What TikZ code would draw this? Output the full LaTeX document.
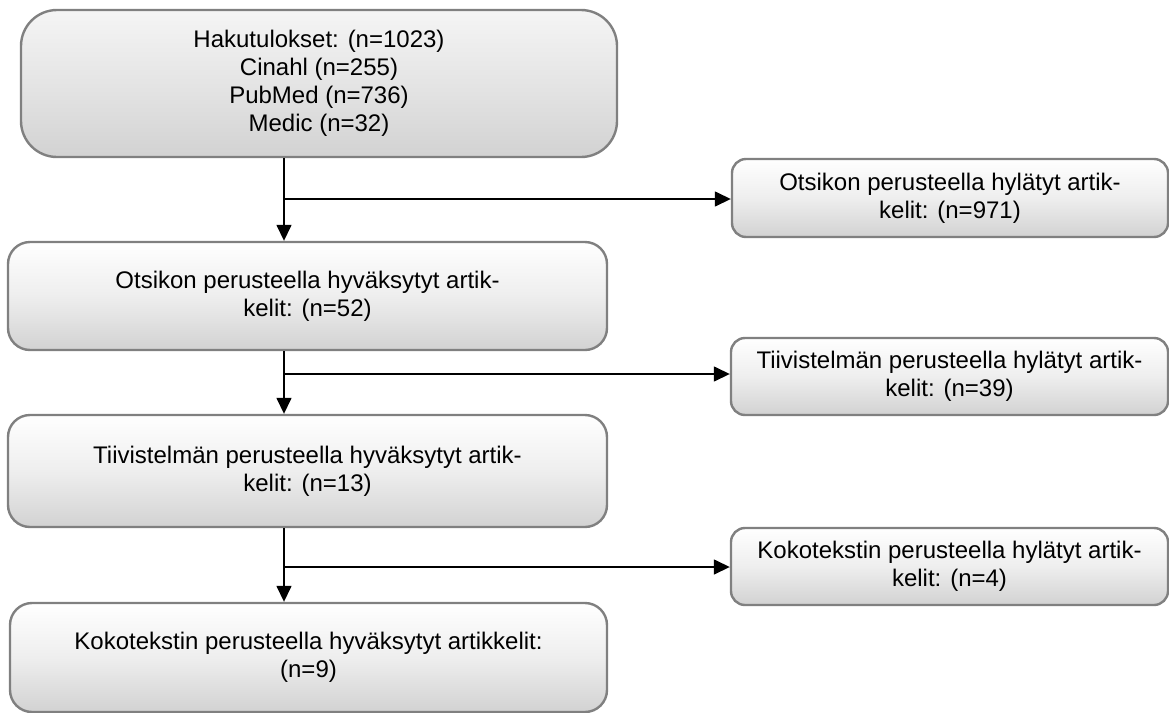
\documentclass[tikz,border=0pt]{standalone}
\usepackage{fontspec}
\setmainfont{Liberation Sans}
\usetikzlibrary{arrows.meta}
\definecolor{boxline}{RGB}{128,128,128}
\definecolor{boxbot}{RGB}{210,210,210}
\definecolor{boxmid}{RGB}{238,238,238}
\tikzset{
  flowbox/.style={draw=boxline, line width=1.2pt, top color=white, bottom color=boxbot, middle color=boxmid,
    align=center, inner sep=0pt, font=\fontsize{12}{14}\selectfont},
  conn/.style={line width=0.75pt, draw=black},
  arr/.style={conn, -{Triangle[length=8pt,width=7.5pt]}}
}
\begin{document}
\begin{tikzpicture}[x=0.5pt,y=-0.5pt]
\useasboundingbox (0,0) rectangle (1169,713);
\node[flowbox, rounded corners=18pt, top color=white!96!black, middle color=boxmid!96!black, minimum width=298pt, minimum height=73.5pt] (b1) at (319,83.5)
  {Hakutulokset: (n=1023)\\Cinahl (n=255)\\PubMed (n=736)\\Medic (n=32)};
\node[flowbox, rounded corners=11pt, minimum width=299.5pt, minimum height=54pt] (b2) at (307.5,296)
  {Otsikon perusteella hyväksytyt artik-\\kelit: (n=52)};
\node[flowbox, rounded corners=11pt, minimum width=299.5pt, minimum height=56pt] (b3) at (307.5,471)
  {Tiivistelmän perusteella hyväksytyt artik-\\kelit: (n=13)};
\node[flowbox, rounded corners=11pt, minimum width=298.5pt, minimum height=54.5pt] (b4) at (308.5,657.5)
  {Kokotekstin perusteella hyväksytyt artikkelit:\\(n=9)};
\node[flowbox, rounded corners=7pt, minimum width=218pt, minimum height=39pt] (r1) at (950,198)
  {Otsikon perusteella hylätyt artik-\\kelit: (n=971)};
\node[flowbox, rounded corners=7pt, minimum width=218.5pt, minimum height=38.5pt] (r2) at (949.5,376.5)
  {Tiivistelmän perusteella hylätyt artik-\\kelit: (n=39)};
\node[flowbox, rounded corners=7pt, minimum width=218.5pt, minimum height=38.5pt] (r3) at (949.5,566.5)
  {Kokotekstin perusteella hylätyt artik-\\kelit: (n=4)};
\coordinate (j1) at (284,199);
\coordinate (j2) at (284,374);
\coordinate (j3) at (284,567);
\draw[arr] (b1.south -| j1) -- (b2.north -| j1);
\draw[arr] (j1) -- (j1 -| r1.west);
\draw[arr] (b2.south -| j2) -- (b3.north -| j2);
\draw[arr] (j2) -- (j2 -| r2.west);
\draw[arr] (b3.south -| j3) -- (b4.north -| j3);
\draw[arr] (j3) -- (j3 -| r3.west);
\end{tikzpicture}
\end{document}
